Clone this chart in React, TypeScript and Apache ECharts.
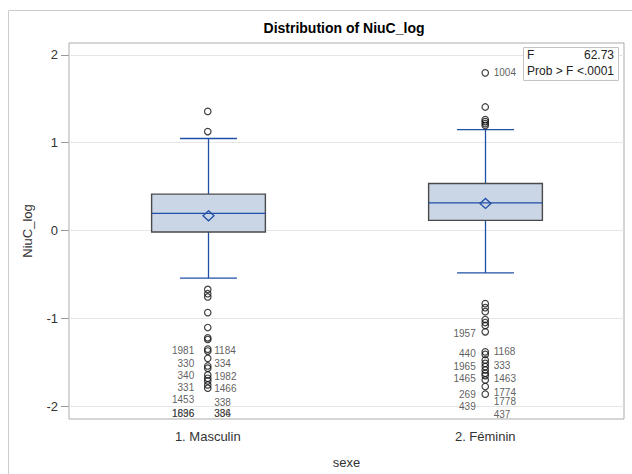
import React, { useEffect, useRef } from 'react';
import * as echarts from 'echarts';

// ---- data ----
const categories = ['1. Masculin', '2. Féminin'];
const whiskerLow = [-0.542, -0.482];
const q1 = [-0.017, 0.116];
const median = [0.195, 0.315];
const q3 = [0.414, 0.535];
const whiskerHigh = [1.048, 1.15];
const means = [0.168, 0.308];

const outliersMasculin = [
  1.357, 1.127, -0.671, -0.72, -0.757, -0.935, -1.105, -1.222, -1.241, -1.351, -1.373,
  -1.456, -1.543, -1.569, -1.645, -1.683, -1.713, -1.759, -1.796,
];
const outliersFeminin = [
  1.796, 1.407, 1.263, 1.241, 1.218, 1.196, -0.833, -0.878, -0.924, -1.014, -1.048, -1.082,
  -1.154, -1.382, -1.411, -1.475, -1.513, -1.55, -1.589, -1.626, -1.652, -1.702, -1.777, -1.864,
];

// observation id labels: category index, value at the label, text, side
const idLabelCat = [0, 0, 0, 0, 0, 0, 0, 0, 0, 0, 0, 0, 0, 0, 1, 1, 1, 1, 1, 1, 1, 1, 1, 1, 1, 1, 1];
const idLabelValue = [
  -1.362, -1.362, -1.513, -1.513, -1.652, -1.663, -1.788, -1.796, -1.929, -1.958, -2.079, -2.079,
  -2.079, -2.079, 1.796, -1.173, -1.399, -1.38, -1.55, -1.543, -1.691, -1.683, -1.864, -1.841,
  -2.003, -1.95, -2.1,
];
const idLabelText = [
  '1981', '1184', '330', '334', '340', '1982', '331', '1466', '1453', '338', '1836', '1696',
  '336', '384', '1004', '1957', '440', '1168', '1965', '333', '1465', '1463', '269', '1774',
  '439', '1778', '437',
];
const idLabelSide = [
  'left', 'right', 'left', 'right', 'left', 'right', 'left', 'right', 'left', 'right', 'left', 'left',
  'right', 'right', 'right', 'left', 'left', 'right', 'left', 'right', 'left', 'right', 'left', 'right',
  'left', 'right', 'right',
];

const yTicks = [-2, -1, 0, 1, 2];
const fStat = '62.73';
const pValue = '<.0001';

const FONT = '"Liberation Sans", Arial, sans-serif';
const BLUE = '#1f4fa6';

export default function App() {
  const ref = useRef<HTMLDivElement>(null);
  useEffect(() => {
    if (!ref.current) return;
    const chart = echarts.init(ref.current, null, { renderer: 'svg' });

    const boxData = categories.map((_, i) => [
      i, whiskerLow[i], q1[i], median[i], q3[i], whiskerHigh[i], means[i],
    ]);
    const outlierData = [
      ...outliersMasculin.map((v) => [0, v]),
      ...outliersFeminin.map((v) => [1, v]),
    ];
    const leftGap = [13, 9];
    const rightGap = [6, 8];
    const labelData = idLabelText.map((t, i) => ({
      name: t,
      value: [idLabelCat[i], idLabelValue[i]],
      label: {
        position: idLabelSide[i],
        distance: idLabelSide[i] === 'left' ? leftGap[idLabelCat[i]] : rightGap[idLabelCat[i]],
      },
    }));

    const option: any = {
      animation: false,
      backgroundColor: '#ffffff',
      textStyle: { fontFamily: FONT },
      grid: {
        left: 69, top: 43, right: 8, bottom: 53,
        show: true, borderColor: '#ababab', borderWidth: 1, backgroundColor: '#ffffff',
      },
      graphic: [
        {
          type: 'rect', z: -10, silent: true,
          shape: { x: 8.5, y: 10.5, width: 700, height: 600 },
          style: { fill: 'none', stroke: '#cccccc', lineWidth: 1 },
        },
        {
          type: 'text', x: 344, y: 28,
          style: { text: 'Distribution of NiuC_log', font: `bold 14px ${FONT}`, fill: '#000', textAlign: 'center', textVerticalAlign: 'middle' },
        },
        {
          type: 'rect', z: 100,
          shape: { x: 523.5, y: 47.5, width: 95, height: 33 },
          style: { fill: '#ffffff', stroke: '#c4c4c4', lineWidth: 1 },
        },
        { type: 'text', z: 101, x: 527, y: 55, style: { text: 'F', font: `12px ${FONT}`, fill: '#222', textVerticalAlign: 'middle' } },
        { type: 'text', z: 101, x: 614, y: 55, style: { text: fStat, font: `12px ${FONT}`, fill: '#222', textAlign: 'right', textVerticalAlign: 'middle' } },
        { type: 'text', z: 101, x: 527, y: 71, style: { text: 'Prob > F', font: `12px ${FONT}`, fill: '#222', textVerticalAlign: 'middle' } },
        { type: 'text', z: 101, x: 614, y: 71, style: { text: pValue, font: `12px ${FONT}`, fill: '#222', textAlign: 'right', textVerticalAlign: 'middle' } },
      ],
      xAxis: {
        type: 'category',
        data: categories,
        boundaryGap: true,
        name: 'sexe',
        nameLocation: 'middle',
        nameGap: 37,
        nameTextStyle: { fontSize: 13, color: '#333', fontFamily: FONT },
        axisLine: { show: false },
        axisTick: { show: true, alignWithLabel: true, length: 6, lineStyle: { color: '#999' } },
        axisLabel: { fontSize: 13, color: '#333', margin: 11, fontFamily: FONT },
        splitLine: { show: false },
      },
      yAxis: {
        type: 'value',
        min: -2.147,
        max: 2.136,
        name: 'NiuC_log',
        nameLocation: 'middle',
        nameRotate: 90,
        nameGap: 35,
        nameTextStyle: { fontSize: 13, color: '#333', fontFamily: FONT },
        axisLine: { show: false },
        axisTick: { show: true, length: 8, customValues: yTicks, lineStyle: { color: '#999' } },
        axisLabel: { fontSize: 13, color: '#333', margin: 11, customValues: yTicks, fontFamily: FONT },
        splitLine: { show: true, lineStyle: { color: '#e6e6e6', width: 1 } },
      },
      series: [
        {
          type: 'custom',
          data: boxData,
          z: 2,
          renderItem: (params: any, api: any) => {
            const cat = api.value(0);
            const lo = api.coord([cat, api.value(1)]);
            const p1 = api.coord([cat, api.value(2)]);
            const md = api.coord([cat, api.value(3)]);
            const p3 = api.coord([cat, api.value(4)]);
            const hi = api.coord([cat, api.value(5)]);
            const mn = api.coord([cat, api.value(6)]);
            const bw = api.size([1, 0])[0] * 0.41;
            const cw = bw / 2;
            const x = Math.round(lo[0]) + 0.5;
            const lineStyle = { stroke: BLUE, lineWidth: 1.3, fill: 'none' };
            return {
              type: 'group',
              children: [
                { type: 'line', shape: { x1: x, y1: hi[1], x2: x, y2: p3[1] }, style: lineStyle },
                { type: 'line', shape: { x1: x, y1: p1[1], x2: x, y2: lo[1] }, style: lineStyle },
                { type: 'line', shape: { x1: x - cw / 2, y1: hi[1], x2: x + cw / 2, y2: hi[1] }, style: lineStyle },
                { type: 'line', shape: { x1: x - cw / 2, y1: lo[1], x2: x + cw / 2, y2: lo[1] }, style: lineStyle },
                {
                  type: 'rect',
                  shape: { x: x - bw / 2, y: p3[1], width: bw, height: p1[1] - p3[1] },
                  style: { fill: '#cad5e6', stroke: '#4a4a4a', lineWidth: 1.4 },
                },
                { type: 'line', shape: { x1: x - bw / 2, y1: md[1], x2: x + bw / 2, y2: md[1] }, style: lineStyle },
                {
                  type: 'polygon',
                  shape: { points: [[x, mn[1] - 5], [x + 5.5, mn[1]], [x, mn[1] + 5], [x - 5.5, mn[1]]] },
                  style: { fill: 'none', stroke: BLUE, lineWidth: 1.3 },
                },
              ],
            };
          },
        },
        {
          type: 'scatter',
          data: outlierData,
          z: 3,
          symbol: 'circle',
          symbolSize: 6.5,
          itemStyle: { color: 'rgba(255,255,255,0)', borderColor: '#111', borderWidth: 1.2 },
        },
        {
          type: 'scatter',
          data: labelData,
          z: 4,
          symbolSize: 1,
          itemStyle: { color: 'rgba(0,0,0,0)' },
          label: {
            show: true,
            formatter: (p: any) => p.name,
            fontSize: 10,
            color: '#333',
            fontFamily: FONT,
          },
        },
      ],
    };
    chart.setOption(option);
    return () => chart.dispose();
  }, []);
  return <div ref={ref} style={{ position: 'absolute', left: 0, top: 0, width: 632, height: 474 }} />;
}
